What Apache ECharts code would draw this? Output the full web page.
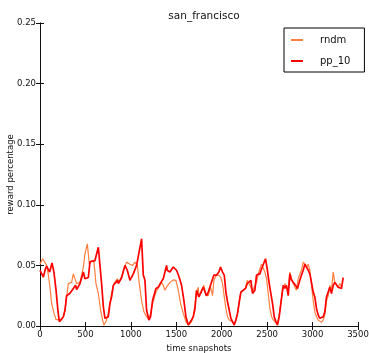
<!DOCTYPE html>
<html>
<head>
<meta charset="utf-8">
<script src="https://cdn.jsdelivr.net/npm/echarts@6/dist/echarts.min.js"></script>
<style>
  html, body { margin: 0; padding: 0; background: #fff; }
  #chart { width: 369px; height: 353px; }
</style>
</head>
<body>
<div id="chart"></div>
<script>
// x ticks / y ticks
const xTicks = [0, 500, 1000, 1500, 2000, 2500, 3000, 3500];
const yTicks = [0, 0.05, 0.10, 0.15, 0.20, 0.25];

// rndm series
const rndmX = [0, 29, 51, 73, 92, 110, 128, 154, 176, 202, 220, 238, 257, 275, 293, 312, 330, 348, 367, 385,
  403, 440, 458, 477, 495, 521, 543, 568, 594, 616, 642, 667, 689, 704, 726, 752, 770, 788, 814, 836,
  851, 873, 898, 924, 953, 990, 1019, 1045, 1071, 1093, 1118, 1144, 1173, 1199, 1217, 1239, 1276, 1294, 1320, 1338,
  1357, 1375, 1393, 1430, 1467, 1496, 1522, 1547, 1577, 1606, 1632, 1668, 1687, 1705, 1723, 1742, 1749, 1771, 1804, 1826,
  1852, 1877, 1899, 1914, 1943, 1969, 1991, 2009, 2028, 2046, 2064, 2083, 2101, 2119, 2138, 2156, 2174, 2193, 2211, 2237,
  2262, 2281, 2303, 2321, 2339, 2358, 2383, 2402, 2420, 2438, 2457, 2475, 2494, 2512, 2530, 2549, 2567, 2585, 2604, 2622,
  2640, 2669, 2695, 2713, 2732, 2750, 2768, 2787, 2805, 2823, 2842, 2860, 2878, 2897, 2915, 2933, 2952, 2970, 2988, 3007,
  3025, 3043, 3062, 3080, 3098, 3117, 3135, 3153, 3172, 3190, 3208, 3227, 3245, 3263, 3282, 3300, 3318];
const rndmY = [0.051, 0.0555, 0.0546, 0.050, 0.042, 0.032, 0.0186, 0.0104, 0.0055, 0.005, 0.0036, 0.005, 0.0077, 0.013, 0.024, 0.035, 0.035, 0.036, 0.043, 0.042,
  0.035, 0.036, 0.042, 0.0486, 0.0596, 0.0678, 0.051, 0.054, 0.0527, 0.035, 0.027, 0.013, 0.005, 0.0008, 0.0036, 0.0104, 0.0186, 0.027, 0.035, 0.035,
  0.039, 0.036, 0.040, 0.047, 0.0527, 0.051, 0.050, 0.0527, 0.050, 0.035, 0.021, 0.0117, 0.0077, 0.0055, 0.0104, 0.0186, 0.028, 0.029, 0.0336, 0.036,
  0.0336, 0.0295, 0.032, 0.036, 0.038, 0.0377, 0.0295, 0.0186, 0.0104, 0.0036, 0.0008, 0.0036, 0.0077, 0.017, 0.028, 0.032, 0.025, 0.027, 0.0336, 0.025,
  0.025, 0.032, 0.025, 0.0377, 0.042, 0.042, 0.040, 0.035, 0.024, 0.0145, 0.0077, 0.005, 0.0036, 0.0036, 0.0016, 0.005, 0.0104, 0.020, 0.028, 0.0295,
  0.031, 0.0377, 0.0377, 0.032, 0.028, 0.032, 0.036, 0.043, 0.0445, 0.051, 0.050, 0.0445, 0.039, 0.0268, 0.0145, 0.0077, 0.005, 0.0036, 0.0022, 0.005,
  0.013, 0.0295, 0.035, 0.035, 0.0295, 0.0445, 0.039, 0.0377, 0.032, 0.0295, 0.039, 0.043, 0.046, 0.0527, 0.051, 0.0486, 0.051, 0.046, 0.0336, 0.021,
  0.0117, 0.0077, 0.005, 0.0036, 0.003, 0.005, 0.009, 0.021, 0.025, 0.0336, 0.029, 0.0445, 0.036, 0.037, 0.032, 0.035, 0.032];

// pp_10 series
const ppX = [0, 37, 59, 73, 84, 106, 132, 154, 176, 198, 213, 231, 257, 275, 293, 330, 367, 392, 403, 440,
  477, 495, 532, 550, 605, 623, 642, 660, 678, 697, 715, 733, 752, 770, 788, 807, 836, 851, 862, 898,
  935, 961, 990, 1027, 1063, 1082, 1118, 1137, 1155, 1173, 1199, 1217, 1239, 1276, 1302, 1331, 1357, 1393, 1400, 1430,
  1467, 1503, 1533, 1558, 1584, 1606, 1632, 1650, 1668, 1687, 1705, 1723, 1749, 1771, 1797, 1815, 1833, 1852, 1877, 1899,
  1914, 1943, 1969, 1987, 2009, 2028, 2046, 2064, 2083, 2101, 2119, 2138, 2156, 2174, 2193, 2211, 2237, 2262, 2281, 2303,
  2321, 2339, 2365, 2383, 2402, 2420, 2438, 2457, 2482, 2501, 2523, 2541, 2559, 2578, 2596, 2614, 2633, 2651, 2677, 2695,
  2713, 2732, 2750, 2768, 2787, 2812, 2834, 2853, 2878, 2897, 2915, 2933, 2952, 2970, 2988, 3007, 3025, 3043, 3062, 3080,
  3098, 3117, 3135, 3153, 3172, 3190, 3208, 3227, 3245, 3263, 3282, 3300, 3318, 3337];
const ppY = [0.0459, 0.0404, 0.047, 0.0495, 0.0486, 0.0445, 0.052, 0.044, 0.030, 0.012, 0.0036, 0.002, 0.0077, 0.013, 0.025, 0.027, 0.031, 0.0336, 0.030, 0.035,
  0.0445, 0.039, 0.040, 0.053, 0.054, 0.054, 0.065, 0.050, 0.035, 0.016, 0.0063, 0.005, 0.0077, 0.0186, 0.024, 0.0336, 0.036, 0.0377, 0.035, 0.040,
  0.050, 0.046, 0.0377, 0.043, 0.050, 0.049, 0.0719, 0.042, 0.0377, 0.013, 0.0049, 0.0077, 0.021, 0.031, 0.032, 0.036, 0.039, 0.050, 0.046, 0.0445,
  0.0486, 0.046, 0.040, 0.0336, 0.021, 0.0077, 0.0008, 0.001, 0.005, 0.0077, 0.014, 0.0295, 0.024, 0.0235, 0.032, 0.0336, 0.025, 0.028, 0.0336, 0.032,
  0.042, 0.042, 0.0445, 0.0486, 0.0445, 0.042, 0.028, 0.020, 0.013, 0.0063, 0.005, 0.0008, 0.005, 0.0104, 0.020, 0.028, 0.0295, 0.031, 0.035, 0.036,
  0.0377, 0.0268, 0.0295, 0.042, 0.043, 0.043, 0.047, 0.047, 0.0555, 0.047, 0.035, 0.0268, 0.0186, 0.0077, 0.0036, 0.0008, 0.0077, 0.0186, 0.0336, 0.031,
  0.0336, 0.025, 0.043, 0.038, 0.036, 0.0336, 0.031, 0.036, 0.042, 0.046, 0.051, 0.050, 0.046, 0.043, 0.036, 0.028, 0.024, 0.0145, 0.009, 0.0063,
  0.0055, 0.0077, 0.0117, 0.024, 0.025, 0.032, 0.0268, 0.0336, 0.036, 0.034, 0.032, 0.032, 0.031, 0.040];

const pairs = (xs, ys) => xs.map((x, i) => [x, ys[i]]);

const chart = echarts.init(document.getElementById('chart'), null, { renderer: 'canvas' });

const font = 'DejaVu Sans';
const ink = '#111';
const tickOpts = { show: true, inside: true, length: 4, lineStyle: { color: ink, width: 1 } };

chart.setOption({
  animation: false,
  backgroundColor: '#fff',
  title: {
    text: 'san_francisco',
    left: 199,
    textAlign: 'center',
    top: 6,
    textStyle: { fontFamily: font, fontSize: 10.5, fontWeight: 'normal', color: ink },
  },
  legend: {
    orient: 'vertical',
    left: 284,
    top: 28,
    width: 69,
    padding: [7, 14, 6, 7],
    itemGap: 11,
    itemWidth: 12,
    itemHeight: 2,
    icon: 'rect',
    borderColor: '#000',
    borderWidth: 1,
    textStyle: { fontFamily: font, fontSize: 10, color: ink, padding: [0, 0, 0, 12] },
    data: ['rndm', 'pp_10'],
  },
  grid: { left: 40, right: 11, top: 23, bottom: 27, outerBoundsMode: 'none', containLabel: false },
  xAxis: [
    {
      type: 'value',
      min: 0,
      max: 3500,
      interval: 500,
      name: 'time snapshots',
      nameLocation: 'middle',
      nameGap: 18,
      nameMoveOverlap: false,
      nameTextStyle: { fontFamily: font, fontSize: 8.5, color: ink },
      axisLine: { show: true, lineStyle: { color: ink, width: 1 } },
      axisTick: tickOpts,
      axisLabel: { fontFamily: font, fontSize: 8.5, color: ink, margin: 4, formatter: (v) => String(v) },
      splitLine: { show: false },
    },
    {
      type: 'value',
      position: 'top',
      min: 0,
      max: 3500,
      interval: 500,
      axisLine: { show: true, lineStyle: { color: ink, width: 1 } },
      axisTick: tickOpts,
      axisLabel: { show: false },
      splitLine: { show: false },
    },
  ],
  yAxis: [
    {
      type: 'value',
      min: 0,
      max: 0.25,
      interval: 0.05,
      name: 'reward percentage',
      nameLocation: 'middle',
      nameGap: 25,
      nameMoveOverlap: false,
      nameTextStyle: { fontFamily: font, fontSize: 8.5, color: ink },
      axisLine: { show: true, lineStyle: { color: ink, width: 1 } },
      axisTick: tickOpts,
      axisLabel: { fontFamily: font, fontSize: 8.5, color: ink, margin: 4, formatter: (v) => v.toFixed(2) },
      splitLine: { show: false },
    },
    {
      type: 'value',
      position: 'right',
      min: 0,
      max: 0.25,
      interval: 0.05,
      axisLine: { show: true, lineStyle: { color: ink, width: 1 } },
      axisTick: tickOpts,
      axisLabel: { show: false },
      splitLine: { show: false },
    },
  ],
  series: [
    {
      name: 'rndm',
      type: 'line',
      data: pairs(rndmX, rndmY),
      symbol: 'none',
      color: '#ff7f3f',
      lineStyle: { color: '#ff7f3f', width: 1.2 },
    },
    {
      name: 'pp_10',
      type: 'line',
      data: pairs(ppX, ppY),
      symbol: 'none',
      color: '#ff0000',
      lineStyle: { color: '#ff0000', width: 1.7 },
    },
  ],
});
</script>
</body>
</html>
